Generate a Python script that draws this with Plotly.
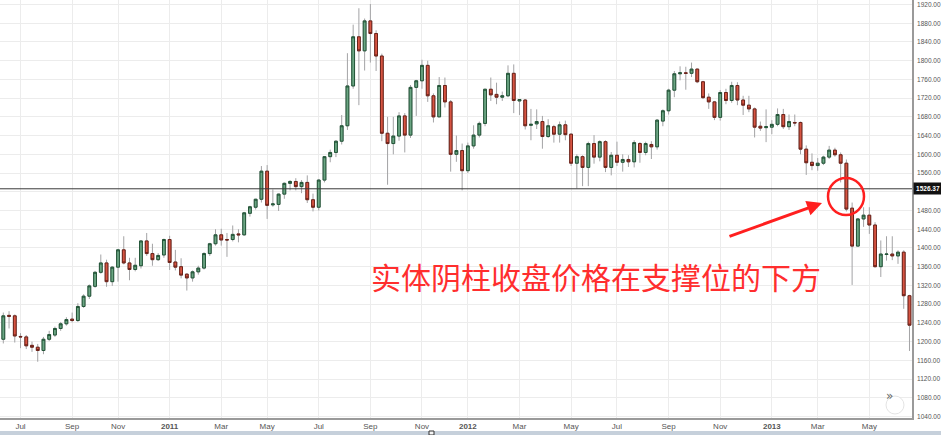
import pandas as pd
import plotly.graph_objects as go

# ---- data: weekly gold candles ----
start_week = "2010-06-14"
n_weeks = 159

opens = [1205,1256,1255,1211,1210,1192,1188,1181,1205,1214,1228,1238,1248,1245,1275,1297,1318,1348,1368,1328,
         1359,1396,1368,1354,1362,1415,1388,1375,1385,1418,1370,1360,1344,1336,1349,1357,1388,1409,1428,1418,
         1418,1430,1428,1474,1487,1504,1564,1492,1493,1515,1538,1542,1531,1540,1503,1487,1545,1595,1604,1628,
         1661,1746,1851,1821,1885,1858,1810,1645,1623,1639,1682,1641,1743,1757,1790,1725,1680,1747,1712,1600,
         1608,1565,1618,1641,1666,1739,1728,1722,1725,1773,1714,1716,1662,1665,1670,1638,1659,1643,1663,1643,
         1581,1595,1572,1623,1594,1627,1572,1598,1583,1589,1584,1623,1604,1621,1616,1671,1693,1737,1772,1774,
         1773,1782,1755,1722,1712,1679,1732,1715,1747,1716,1705,1697,1660,1657,1658,1664,1685,1659,1668,1668,
         1611,1583,1576,1581,1594,1609,1599,1581,1485,1404,1462,1470,1449,1360,1386,1387,1383,1391,1298]
highs = [1262,1265,1258,1218,1214,1200,1195,1210,1223,1232,1242,1252,1262,1282,1301,1322,1351,1386,1375,1361,
         1398,1425,1379,1379,1416,1432,1409,1389,1420,1426,1396,1378,1346,1352,1362,1391,1411,1440,1441,1432,
         1448,1440,1477,1490,1505,1575,1577,1525,1516,1540,1545,1549,1545,1555,1516,1547,1596,1610,1630,1684,
         1816,1877,1912,1890,1921,1865,1815,1680,1680,1690,1688,1748,1759,1802,1800,1730,1765,1764,1716,1640,
         1623,1625,1662,1670,1740,1764,1753,1734,1790,1792,1718,1718,1697,1696,1682,1675,1663,1670,1672,1645,
         1600,1598,1627,1641,1630,1630,1605,1627,1600,1598,1630,1626,1627,1628,1675,1696,1740,1778,1788,1787,
         1796,1783,1757,1730,1714,1737,1740,1755,1754,1725,1725,1700,1670,1696,1673,1698,1697,1685,1685,1670,
         1619,1602,1592,1597,1618,1614,1604,1589,1497,1464,1487,1487,1455,1416,1425,1425,1395,1395,1300]
lows = [1196,1228,1198,1186,1184,1178,1157,1173,1201,1210,1223,1234,1241,1242,1272,1291,1315,1345,1317,1319,
        1328,1365,1331,1350,1356,1383,1362,1372,1379,1353,1352,1335,1309,1328,1343,1354,1383,1405,1405,1381,
        1414,1412,1426,1467,1482,1497,1462,1488,1479,1505,1523,1523,1517,1496,1478,1480,1540,1583,1594,1621,
        1652,1740,1705,1779,1796,1778,1628,1535,1600,1629,1604,1635,1682,1740,1712,1668,1680,1700,1563,1584,
        1523,1560,1612,1636,1660,1714,1707,1714,1722,1688,1684,1653,1630,1654,1612,1635,1625,1625,1630,1575,
        1527,1532,1532,1580,1585,1562,1555,1575,1563,1573,1572,1582,1598,1590,1610,1660,1685,1722,1758,1738,
        1765,1752,1718,1697,1673,1672,1707,1710,1705,1684,1690,1636,1650,1626,1643,1660,1654,1652,1660,1600,
        1556,1566,1565,1577,1590,1595,1540,1478,1321,1404,1445,1430,1358,1338,1373,1374,1366,1270,1180]
closes = [1255,1254,1212,1210,1191,1188,1181,1205,1215,1228,1238,1247,1245,1275,1297,1319,1348,1368,1328,1359,
          1396,1368,1354,1363,1415,1388,1375,1384,1418,1369,1359,1342,1336,1349,1357,1388,1409,1428,1417,1417,
          1429,1428,1475,1488,1504,1564,1491,1494,1515,1538,1542,1531,1540,1503,1487,1545,1595,1604,1628,1661,
          1746,1851,1821,1885,1858,1810,1645,1623,1639,1682,1641,1743,1757,1790,1725,1680,1747,1712,1600,1608,
          1565,1618,1641,1666,1739,1727,1722,1725,1773,1715,1717,1661,1664,1670,1638,1661,1643,1663,1642,1581,
          1595,1572,1623,1594,1627,1572,1598,1583,1589,1584,1625,1604,1623,1616,1673,1693,1737,1772,1774,1773,
          1782,1755,1721,1712,1679,1732,1715,1747,1716,1705,1697,1658,1656,1659,1664,1685,1659,1670,1667,1611,
          1582,1576,1581,1594,1609,1599,1581,1483,1404,1462,1470,1449,1360,1387,1387,1383,1391,1298,1235]

tick_dates = ["2010-07-05","2010-09-06","2010-11-01","2011-01-03","2011-03-07","2011-05-02",
              "2011-07-04","2011-09-05","2011-11-07","2012-01-02","2012-03-05","2012-05-07",
              "2012-07-02","2012-09-03","2012-11-05","2013-01-07","2013-03-04","2013-05-06"]
tick_text = ["Jul","Sep","Nov","<b>2011</b>","Mar","May","Jul","Sep","Nov","<b>2012</b>","Mar","May",
             "Jul","Sep","Nov","<b>2013</b>","Mar","May"]

price_ticks = list(range(1040, 1921, 40))
price_hidden = 1520          # label covered by the price marker
support_level = 1526.37
note_text = "实体阴柱收盘价格在支撑位的下方"

dates = pd.date_range(start_week, periods=n_weeks, freq="W-MON")
body_hi = [max(o, c) for o, c in zip(opens, closes)]
body_lo = [min(o, c) for o, c in zip(opens, closes)]
price_text = ["" if v == price_hidden else f"{v:.2f}" for v in price_ticks]

UP_FILL, UP_LINE = "#6ba583", "#225437"
DN_FILL, DN_LINE = "#d75442", "#6b2219"
WICK = "#a3a3a5"

fig = go.Figure()
# wicks
fig.add_trace(go.Candlestick(
    x=dates, open=opens, high=highs, low=lows, close=closes,
    increasing=dict(line=dict(color=WICK, width=1), fillcolor=UP_FILL),
    decreasing=dict(line=dict(color=WICK, width=1), fillcolor=DN_FILL),
    showlegend=False, hoverinfo="skip"))
# bodies
fig.add_trace(go.Candlestick(
    x=dates, open=opens, high=body_hi, low=body_lo, close=closes,
    increasing=dict(line=dict(color=UP_LINE, width=1), fillcolor=UP_FILL),
    decreasing=dict(line=dict(color=DN_LINE, width=1), fillcolor=DN_FILL),
    showlegend=False))

W, H = 941, 435
PL, PR, PT, PB = 0, 29, 0, 17
pw, ph = W - PL - PR, H - PT - PB

def px(x):
    return x / pw

def py(y):
    return 1 - y / ph

shapes = [
    # white patch behind part of the note
    dict(type="rect", xref="paper", yref="paper", x0=px(497), x1=px(845), y0=py(312), y1=py(243),
         fillcolor="white", line=dict(width=0), layer="between"),
    # support line
    dict(type="line", xref="paper", yref="y", x0=0, x1=1, y0=support_level, y1=support_level,
         line=dict(color="#3a3a3a", width=1)),
    # circle
    dict(type="circle", xref="paper", yref="paper", x0=px(828), x1=px(864), y0=py(215), y1=py(178),
         line=dict(color="#ff1f1f", width=2.5)),
    # scroll bar strip
    dict(type="rect", xref="paper", yref="paper", x0=0, x1=W / pw, y0=py(435), y1=py(431),
         fillcolor="#c6d0db", line=dict(width=0), layer="above"),
    dict(type="rect", xref="paper", yref="paper", x0=px(429), x1=px(434), y0=py(435), y1=py(431),
         fillcolor="#f4f4f4", line=dict(color="#333", width=1), layer="above"),
    # » button
    dict(type="circle", xref="paper", yref="paper", x0=px(886), x1=px(904), y0=py(414), y1=py(396),
         fillcolor="white", line=dict(color="#e4e4e4", width=1)),
]

annotations = [
    dict(xref="paper", yref="paper", x=px(596), y=py(276), text=note_text, showarrow=False,
         font=dict(family="Noto Sans CJK SC", size=30, color="#ff2e2e")),
    dict(xref="paper", yref="paper", x=px(822), y=py(203), ax=-94, ay=34, text="",
         showarrow=True, arrowhead=2, arrowsize=1, arrowwidth=3, arrowcolor="#ff1f1f"),
    dict(xref="paper", yref="y", x=1, y=support_level, xanchor="left", yanchor="middle",
         text=f"<b>{support_level:.2f}</b>", showarrow=False, bgcolor="#111111", borderpad=0,
         width=28, height=11, align="center", xshift=1,
         font=dict(family="Liberation Sans", size=6.5, color="white")),
    dict(xref="paper", yref="paper", x=px(895), y=py(405), text="»", showarrow=False,
         font=dict(family="DejaVu Sans", size=12, color="#666")),
]

fig.update_layout(
    width=W, height=H,
    margin=dict(l=PL, r=PR, t=PT, b=PB, autoexpand=False),
    paper_bgcolor="white", plot_bgcolor="white",
    showlegend=False,
    shapes=shapes, annotations=annotations,
    xaxis=dict(
        type="date", automargin=False,
        range=["2010-06-09 23:00", "2013-06-27 02:00"],
        tickmode="array", tickvals=tick_dates, ticktext=tick_text,
        showgrid=True, gridcolor="#ececec", gridwidth=1,
        showline=True, linecolor="#9a9a9a", linewidth=1.5,
        ticks="", ticklabelstandoff=0,
        tickfont=dict(family="Liberation Sans", size=8, color="#555"),
        rangeslider=dict(visible=False), zeroline=False, fixedrange=True,
    ),
    yaxis=dict(
        side="right", automargin=False, range=[1036.8, 1929.6],
        tickmode="array", tickvals=price_ticks, ticktext=price_text,
        showgrid=True, gridcolor="#ececec", gridwidth=1,
        showline=True, linecolor="#9a9a9a", linewidth=1.5,
        ticks="", ticklabelstandoff=2,
        tickfont=dict(family="Liberation Sans", size=6.5, color="#555"),
        zeroline=False, fixedrange=True,
    ),
)

fig.write_html("out.html", config={"displayModeBar": False},
               post_script="document.body.style.margin='0';document.body.style.overflow='hidden';")
